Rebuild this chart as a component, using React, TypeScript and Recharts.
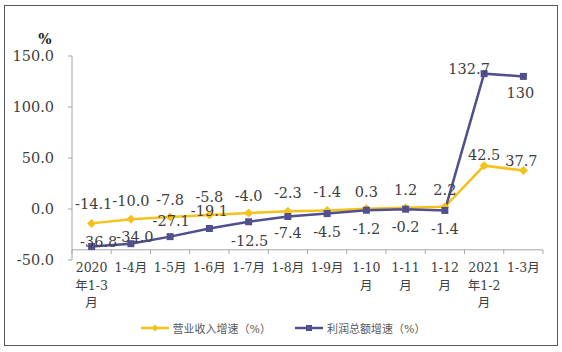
import React from 'react';
import { LineChart, Line, XAxis, YAxis, ReferenceLine, LabelList, Legend } from 'recharts';

const categories: string[] = [
  '2020\n年1-3\n月', '1-4月', '1-5月', '1-6月', '1-7月', '1-8月', '1-9月',
  '1-10\n月', '1-11\n月', '1-12\n月', '2021\n年1-2\n月', '1-3月',
];
const revenueGrowth: number[] = [-14.1, -10.0, -7.8, -5.8, -4.0, -2.3, -1.4, 0.3, 1.2, 2.2, 42.5, 37.7];
const profitGrowth: number[] = [-36.8, -34.0, -27.1, -19.1, -12.5, -7.4, -4.5, -1.2, -0.2, -1.4, 132.7, 130];
const profitLabels: string[] = ['-36.8', '-34.0', '-27.1', '-19.1', '-12.5', '-7.4', '-4.5', '-1.2', '-0.2', '-1.4', '132.7', '130'];
const yTicks: number[] = [-50, 0, 50, 100, 150];
const seriesNames = { revenue: '营业收入增速（%）', profit: '利润总额增速（%）' };

const data = categories.map((c, i) => ({
  cat: c,
  revenue: revenueGrowth[i],
  profit: profitGrowth[i],
  profitLabel: profitLabels[i],
}));

// label placement styling (offsets from marker)
const revLabelDy = [-19, -18, -17, -18, -17, -18, -18, -17, -18, -17, -11, -10];
const revLabelDx = [2, 0, 0, 0, 0, 0, 0, 0, 0, 0, 0, -2];
const profLabelDy = [-5, -7, -16, -17, 19, 16, 18, 19, 18, 19, -5, 17];
const profLabelDx = [7, 4, 1, 0, 1, 0, 0, 0, 0, 0, -15, -3];

const W = 562;
const H = 352;
const M = { top: 56, right: 19, bottom: 0, left: 0 };
const Y_AXIS_W = 72;
const X_AXIS_H = 92;
const FONT = '"DejaVu Serif", "Noto Sans CJK SC", serif';
const YELLOW = '#F5C21B';
const PURPLE = '#50508F';
const AXIS = '#A6A6A6';
const TEXT = '#404040';
const HALF_BAND = (W - M.right - M.left - Y_AXIS_W) / categories.length / 2;

const XTick = (props: any) => {
  const { x, y, payload, index } = props;
  const lines = String(payload.value).split('\n');
  return (
    <g>
      <line x1={x - HALF_BAND} x2={x - HALF_BAND} y1={y - 10} y2={y - 6} stroke={AXIS} />
      {index === categories.length - 1 && (
        <line x1={x + HALF_BAND} x2={x + HALF_BAND} y1={y - 10} y2={y - 6} stroke={AXIS} />
      )}
      <text x={x} y={y + 12} textAnchor="middle" fontSize={12.5} fill={TEXT} fontFamily={FONT}>
        {lines.map((l, i) => (
          <tspan key={i} x={x} dy={i === 0 ? 0 : 17.5}>{l}</tspan>
        ))}
      </text>
    </g>
  );
};

const makeLabel = (dxs: number[], dys: number[]) => (props: any) => {
  const { x, y, value, index } = props;
  return (
    <text
      x={x + dxs[index]}
      y={y + dys[index]}
      textAnchor="middle"
      dominantBaseline="central"
      fontSize={14.5}
      fill={TEXT}
      fontFamily={FONT}
    >
      {typeof value === 'number' ? value.toFixed(1) : value}
    </text>
  );
};

const diamond = (cx: number, cy: number, r: number) =>
  `M${cx},${cy - r}L${cx + r},${cy}L${cx},${cy + r}L${cx - r},${cy}Z`;

const YellowDot = (props: any) => {
  const { cx, cy, index } = props;
  return <path key={`y${index}`} d={diamond(cx, cy, 4)} fill={YELLOW} stroke={YELLOW} />;
};
const PurpleDot = (props: any) => {
  const { cx, cy, index } = props;
  return <rect key={`p${index}`} x={cx - 3.5} y={cy - 3.5} width={7} height={7} fill={PURPLE} />;
};

const LegendContent = () => (
  <div
    style={{
      display: 'flex',
      justifyContent: 'center',
      alignItems: 'center',
      gap: 24,
      fontFamily: FONT,
      fontSize: 11,
      color: '#595959',
      paddingLeft: 4,
    }}
  >
    <div style={{ display: 'flex', alignItems: 'center' }}>
      <svg width={28} height={10} style={{ marginRight: 4 }}>
        <line x1={0} x2={28} y1={5} y2={5} stroke={YELLOW} strokeWidth={2.5} />
        <path d={diamond(14, 5, 3.5)} fill={YELLOW} />
      </svg>
      <span>{seriesNames.revenue}</span>
    </div>
    <div style={{ display: 'flex', alignItems: 'center' }}>
      <svg width={28} height={10} style={{ marginRight: 4 }}>
        <line x1={0} x2={28} y1={5} y2={5} stroke={PURPLE} strokeWidth={2.5} />
        <rect x={11} y={2} width={6} height={6} fill={PURPLE} />
      </svg>
      <span>{seriesNames.profit}</span>
    </div>
  </div>
);

export default function App() {
  return (
    <div style={{ position: 'absolute', left: 0, top: 0, width: W, height: H, background: '#fff' }}>
      <div
        style={{
          position: 'absolute',
          left: 4,
          top: 5,
          width: 552,
          height: 339,
          border: '1px solid #595959',
        }}
      />
      <LineChart width={W} height={H} data={data} margin={M}>
        <XAxis
          dataKey="cat"
          height={X_AXIS_H}
          axisLine={false}
          tickLine={false}
          tickSize={0}
          tickMargin={0}
          interval={0}
          padding={{ left: HALF_BAND, right: HALF_BAND }}
          tick={<XTick />}
        />
        <YAxis
          width={Y_AXIS_W}
          domain={[-50, 150]}
          ticks={yTicks}
          interval={0}
          tickFormatter={(v: number) => v.toFixed(1)}
          axisLine={{ stroke: AXIS }}
          tickLine={{ stroke: AXIS }}
          tickSize={4}
          tickMargin={14}
          tick={{ fontSize: 14.5, fill: TEXT, fontFamily: FONT }}
          label={{ value: '%', position: 'top', dx: 9, offset: 12, fontSize: 14, fontWeight: 'bold', fill: '#222', fontFamily: FONT }}
        />
        <ReferenceLine y={-40} stroke={AXIS} />
        <Line
          dataKey="revenue"
          name={seriesNames.revenue}
          stroke={YELLOW}
          strokeWidth={2.5}
          dot={YellowDot}
          activeDot={false}
          isAnimationActive={false}
        >
          <LabelList dataKey="revenue" content={makeLabel(revLabelDx, revLabelDy)} />
        </Line>
        <Line
          dataKey="profit"
          name={seriesNames.profit}
          stroke={PURPLE}
          strokeWidth={2.5}
          dot={PurpleDot}
          activeDot={false}
          isAnimationActive={false}
        >
          <LabelList dataKey="profitLabel" content={makeLabel(profLabelDx, profLabelDy)} />
        </Line>
        <Legend
          layout="horizontal"
          verticalAlign="middle"
          align="center"
          content={<LegendContent />}
          wrapperStyle={{ top: 320, left: 0, width: W }}
        />
      </LineChart>
    </div>
  );
}
